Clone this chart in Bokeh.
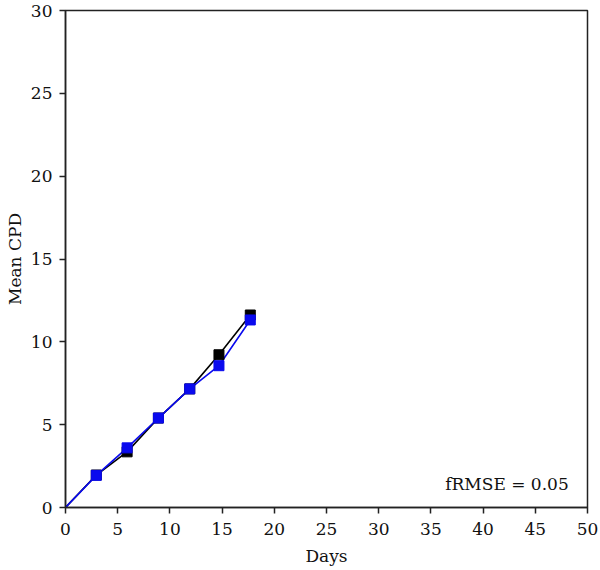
from bokeh.plotting import figure
from bokeh.models import Label, FixedTicker
from bokeh.embed import file_html
from bokeh.resources import INLINE

days = [0, 2.95, 5.9, 8.9, 11.9, 14.7, 17.7]
observed = [0, 1.96, 3.36, 5.4, 7.16, 9.22, 11.62]
simulated = [0, 1.94, 3.6, 5.4, 7.16, 8.56, 11.32]
x_ticks = [0, 5, 10, 15, 20, 25, 30, 35, 40, 45, 50]
y_ticks = [0, 5, 10, 15, 20, 25, 30]
annotation = "fRMSE = 0.05"

FONT = "DejaVu Serif"

p = figure(frame_width=522, frame_height=497, output_backend="svg", toolbar_location=None,
           x_range=(0, 50), y_range=(0, 30),
           min_border_left=65, min_border_right=13, min_border_top=10, min_border_bottom=63)
p.grid.visible = False
p.outline_line_color = "#222222"
p.outline_line_width = 1.5
p.background_fill_color = "white"
p.border_fill_color = "white"

for ax in (p.xaxis[0], p.yaxis[0]):
    ax.axis_line_color = "#222222"
    ax.axis_line_width = 1.5
    ax.major_tick_line_color = "#222222"
    ax.major_tick_line_width = 1.5
    ax.major_tick_in = 0
    ax.major_tick_out = 6
    ax.minor_tick_line_color = None
    ax.major_label_text_font = FONT
    ax.major_label_text_font_size = "17px"
    ax.major_label_text_color = "#111111"
    ax.axis_label_text_font = FONT
    ax.axis_label_text_font_size = "17px"
    ax.axis_label_text_font_style = "normal"
    ax.axis_label_text_color = "#111111"

p.xaxis.ticker = FixedTicker(ticks=x_ticks)
p.yaxis.ticker = FixedTicker(ticks=y_ticks)
p.xaxis.axis_label = "Days"
p.yaxis.axis_label = "Mean CPD"
p.xaxis.major_label_standoff = 9
p.yaxis.major_label_standoff = 7
p.xaxis.axis_label_standoff = 8
p.yaxis.axis_label_standoff = 3

p.line(days, observed, line_color="black", line_width=1.6)
p.line(days, simulated, line_color="#0a0aee", line_width=1.6)
p.scatter(days[1:], observed[1:], marker="square", size=10, fill_color="black", line_color="black")
p.scatter(days[1:], simulated[1:], marker="square", size=10, fill_color="#0a0aee", line_color="#0a0aee")

p.add_layout(Label(x=48.2, y=1.4, text=annotation, text_align="right", text_baseline="alphabetic",
                   text_font=FONT, text_font_size="17px", text_color="#111111"))

open("out.html", "w").write(file_html(p, INLINE))
